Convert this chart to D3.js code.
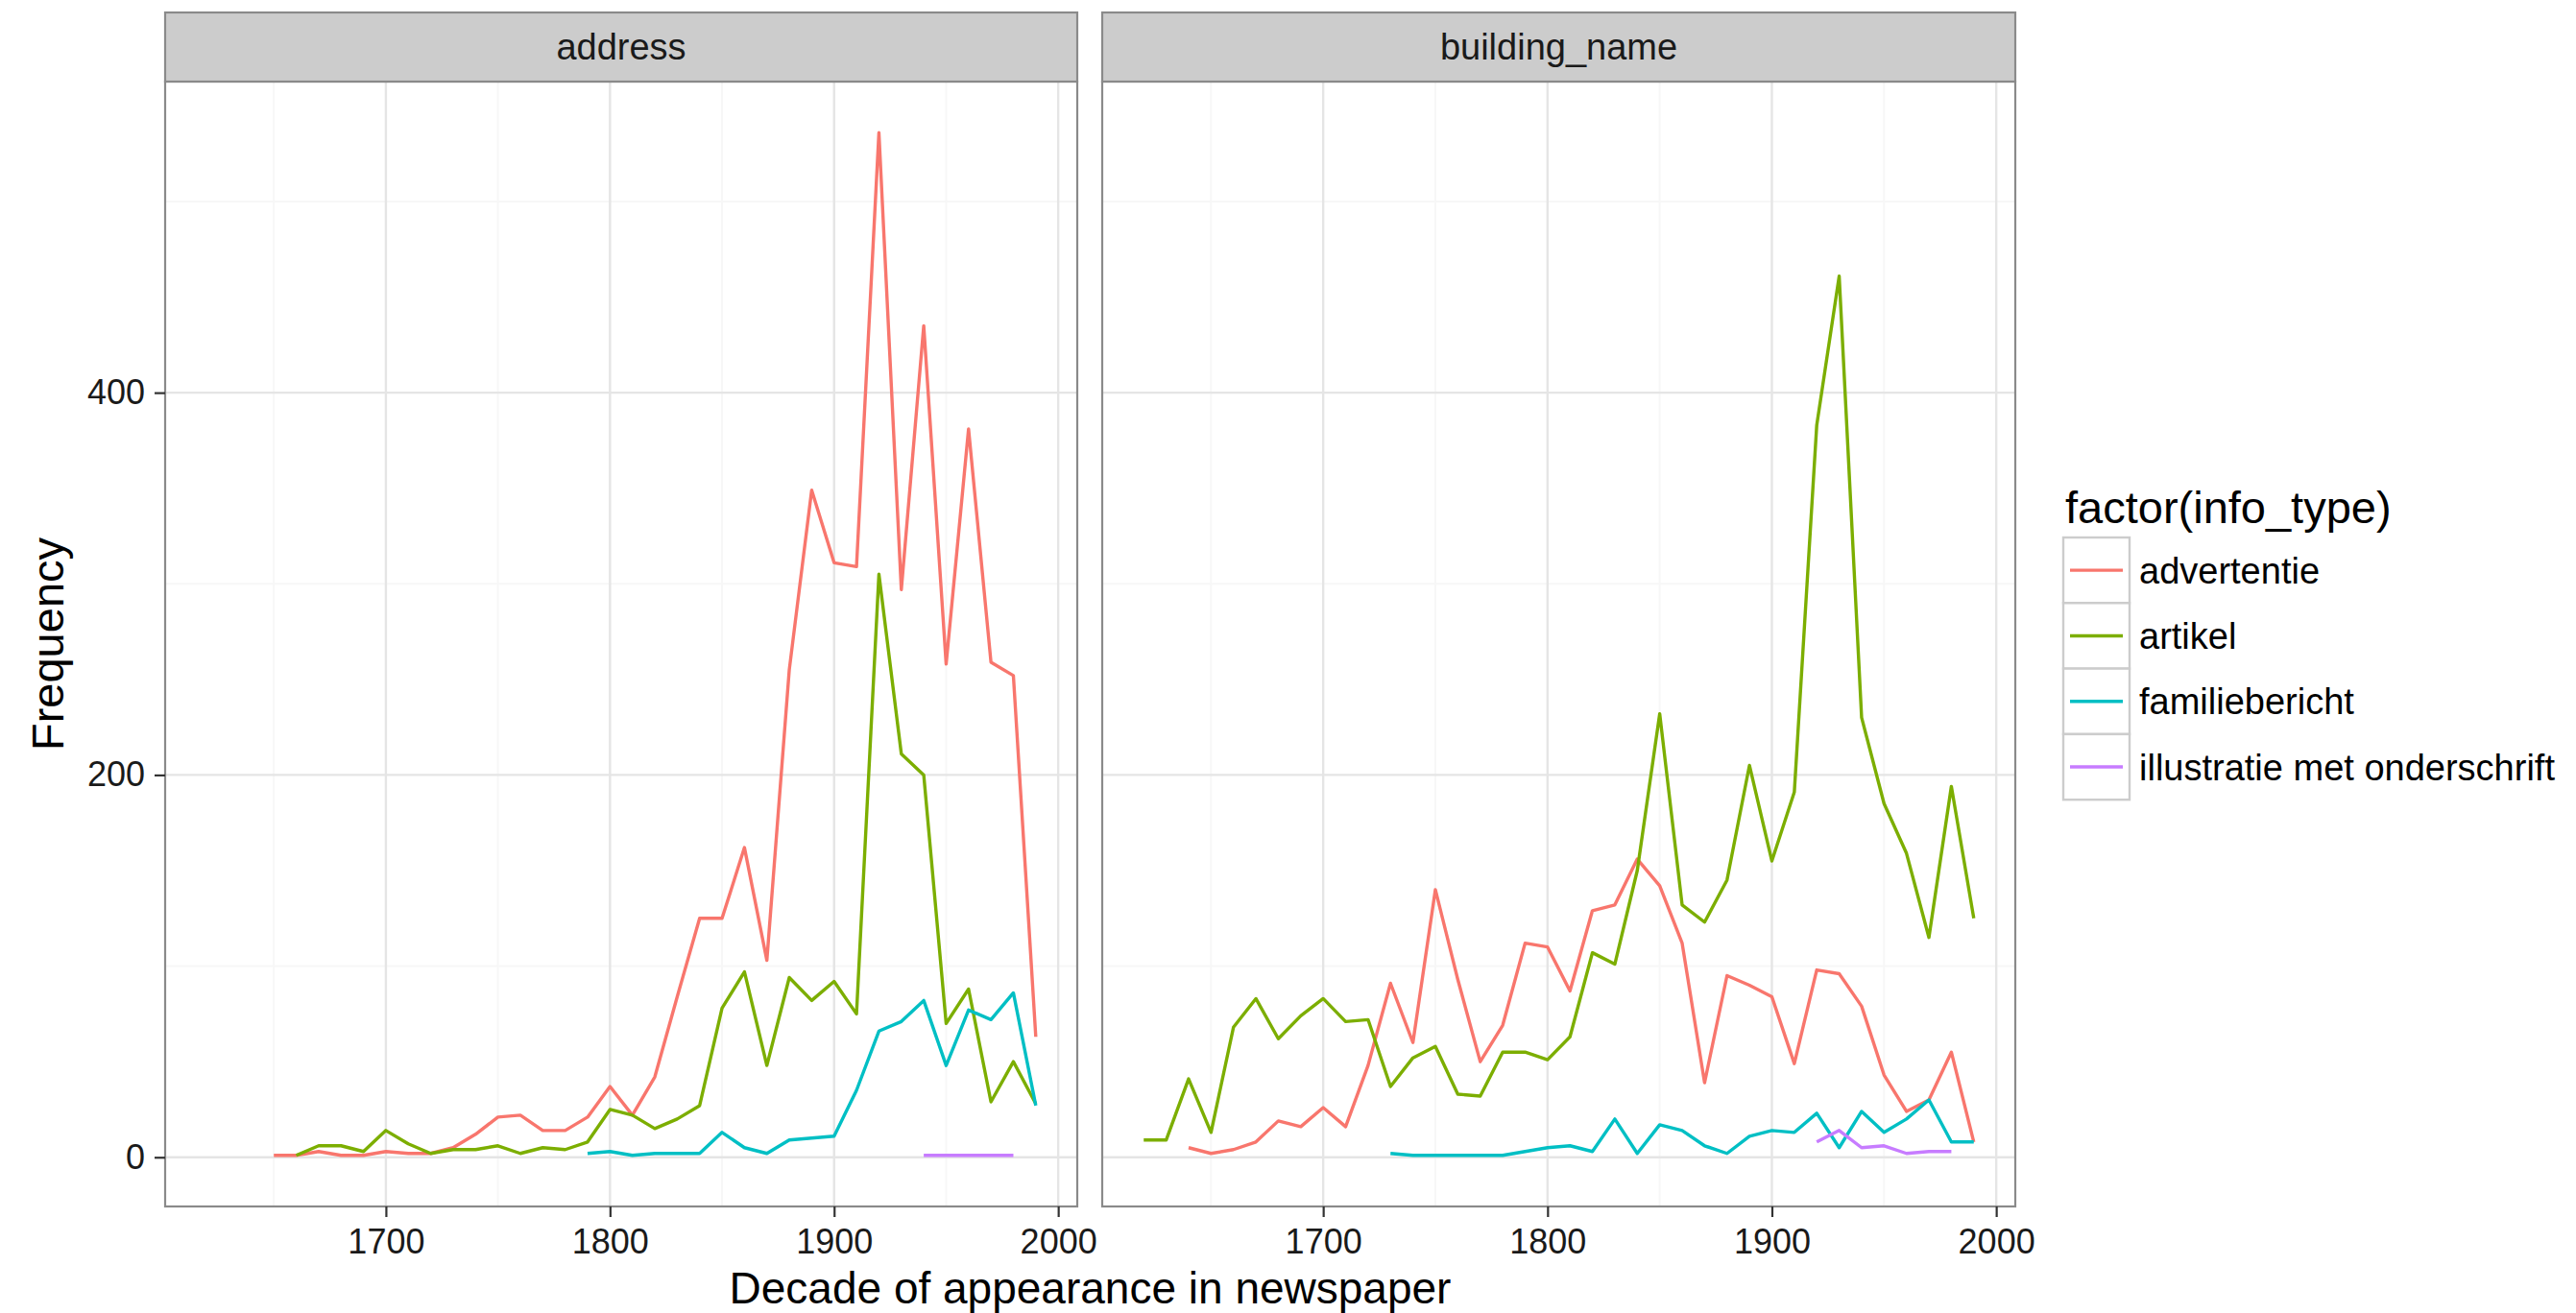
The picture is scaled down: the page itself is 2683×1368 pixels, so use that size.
<!DOCTYPE html>
<html lang="en">
<head>
    <meta charset="UTF-8">
    <title>Decade of appearance in newspaper</title>
    <style>
        body {
            margin: 0;
            background: #fff;
            font-family: 'Liberation Sans', Arial, sans-serif;
        }
        svg { display: block; }
        .axis path { display: none; }
        .axis line { stroke: #333; stroke-width: 2.2; }
        .axis text { font-size: 36px; fill: #1a1a1a; font-family: 'Liberation Sans', Arial, sans-serif; }
    </style>
</head>
<body>
    <svg width="2683" height="1368"></svg>
    <script src="https://d3js.org/d3.v7.min.js"></script>
    <script>
        const width = 2683;
        const height = 1368;

        // decades shared by every series (null = no value that decade)
        const decades = [1620, 1630, 1640, 1650, 1660, 1670, 1680, 1690, 1700, 1710,
                         1720, 1730, 1740, 1750, 1760, 1770, 1780, 1790, 1800, 1810,
                         1820, 1830, 1840, 1850, 1860, 1870, 1880, 1890, 1900, 1910,
                         1920, 1930, 1940, 1950, 1960, 1970, 1980, 1990];

        const infoTypes = ["advertentie", "artikel", "familiebericht", "illustratie met onderschrift"];
        const facets = ["address", "building_name"];

        // facet: address
        const addressAdvertentie = [null, null, null, 1, 1, 3, 1, 1, 3, 2,
                                    2, 5, 12, 21, 22, 14, 14, 21, 37, 22,
                                    42, 84, 125, 125, 162, 103, 255, 349, 311, 309,
                                    536, 297, 435, 258, 381, 259, 252, 63];
        const addressArtikel = [null, null, null, null, 1, 6, 6, 3, 14, 7,
                                2, 4, 4, 6, 2, 5, 4, 8, 25, 22,
                                15, 20, 27, 78, 97, 48, 94, 82, 92, 75,
                                305, 211, 200, 70, 88, 29, 50, 28];
        const addressFamiliebericht = [null, null, null, null, null, null, null, null, null, null,
                                       null, null, null, null, null, null, null, 2, 3, 1,
                                       2, 2, 2, 13, 5, 2, 9, 10, 11, 35,
                                       66, 71, 82, 48, 77, 72, 86, 27];
        const addressIllustratie = [null, null, null, null, null, null, null, null, null, null,
                                    null, null, null, null, null, null, null, null, null, null,
                                    null, null, null, null, null, null, null, null, null, null,
                                    null, null, 1, 1, 1, 1, 1, null];

        // facet: building_name
        const buildingAdvertentie = [null, null, 5, 2, 4, 8, 19, 16, 26, 16,
                                     48, 91, 60, 140, 93, 50, 69, 112, 110, 87,
                                     129, 132, 156, 142, 112, 39, 95, 90, 84, 49,
                                     98, 96, 79, 43, 24, 30, 55, 8];
        const buildingArtikel = [9, 9, 41, 13, 68, 83, 62, 74, 83, 71,
                                 72, 37, 52, 58, 33, 32, 55, 55, 51, 63,
                                 107, 101, 150, 232, 132, 123, 145, 205, 155, 191,
                                 383, 461, 230, 185, 159, 115, 194, 125];
        const buildingFamiliebericht = [null, null, null, null, null, null, null, null, null, null,
                                        null, 2, 1, 1, 1, 1, 1, 3, 5, 6,
                                        3, 20, 2, 17, 14, 6, 2, 11, 14, 13,
                                        23, 5, 24, 13, 20, 30, 8, 8];
        const buildingIllustratie = [null, null, null, null, null, null, null, null, null, null,
                                     null, null, null, null, null, null, null, null, null, null,
                                     null, null, null, null, null, null, null, null, null, null,
                                     8, 14, 5, 6, 2, 3, 3, null];

        const seriesByFacet = {
            address: [addressAdvertentie, addressArtikel, addressFamiliebericht, addressIllustratie],
            building_name: [buildingAdvertentie, buildingArtikel, buildingFamiliebericht, buildingIllustratie]
        };

        const xTicks = [1700, 1800, 1900, 2000];
        const xMinor = [1650, 1750, 1850, 1950];
        const yTicks = [0, 200, 400];
        const yMinor = [100, 300, 500];

        const colors = ["#F8766D", "#7CAE00", "#00BFC4", "#C77CFF"];

        // layout
        const stripTop = 13;
        const panelTop = 85;
        const panelBottom = 1257;
        const panelX = [[172, 1122], [1148, 2099]];

        const svg = d3.select("svg");

        // ggplot style 5% expansion on both scales
        const allYears = [];
        const allValues = [];
        facets.forEach(f => seriesByFacet[f].forEach(s => s.forEach((v, i) => {
            if (v !== null) { allYears.push(decades[i]); allValues.push(v); }
        })));
        const xExt = d3.extent(allYears);
        const yExt = d3.extent(allValues);
        const xPad = (xExt[1] - xExt[0]) * 0.05;
        const yPad = (yExt[1] - yExt[0]) * 0.05;

        const y = d3.scaleLinear()
            .domain([yExt[0] - yPad, yExt[1] + yPad])
            .range([panelBottom, panelTop]);

        facets.forEach((facet, fi) => {
            const [x0, x1] = panelX[fi];
            const x = d3.scaleLinear()
                .domain([xExt[0] - xPad, xExt[1] + xPad])
                .range([x0, x1]);

            const g = svg.append("g");

            // panel background
            g.append("rect")
                .attr("x", x0).attr("y", panelTop)
                .attr("width", x1 - x0).attr("height", panelBottom - panelTop)
                .attr("fill", "#fff");

            // minor grid
            g.selectAll(".vminor").data(xMinor).join("line")
                .attr("x1", d => x(d)).attr("x2", d => x(d))
                .attr("y1", panelTop).attr("y2", panelBottom)
                .attr("stroke", "#F7F7F7").attr("stroke-width", 2);
            g.selectAll(".hminor").data(yMinor).join("line")
                .attr("x1", x0).attr("x2", x1)
                .attr("y1", d => y(d)).attr("y2", d => y(d))
                .attr("stroke", "#F7F7F7").attr("stroke-width", 2);

            // major grid
            g.selectAll(".vmajor").data(xTicks).join("line")
                .attr("x1", d => x(d)).attr("x2", d => x(d))
                .attr("y1", panelTop).attr("y2", panelBottom)
                .attr("stroke", "#E5E5E5").attr("stroke-width", 2.4);
            g.selectAll(".hmajor").data(yTicks).join("line")
                .attr("x1", x0).attr("x2", x1)
                .attr("y1", d => y(d)).attr("y2", d => y(d))
                .attr("stroke", "#E5E5E5").attr("stroke-width", 2.4);

            // lines
            const line = d3.line()
                .defined(d => d.v !== null)
                .x(d => x(d.year))
                .y(d => y(d.v));

            seriesByFacet[facet].forEach((values, si) => {
                const pts = values.map((v, i) => ({ year: decades[i], v: v }));
                g.append("path")
                    .datum(pts)
                    .attr("fill", "none")
                    .attr("stroke", colors[si])
                    .attr("stroke-width", 3.4)
                    .attr("stroke-linejoin", "round")
                    .attr("d", line);
            });

            // panel border
            g.append("rect")
                .attr("x", x0).attr("y", panelTop)
                .attr("width", x1 - x0).attr("height", panelBottom - panelTop)
                .attr("fill", "none").attr("stroke", "#8a8a8a").attr("stroke-width", 2.2);

            // strip
            g.append("rect")
                .attr("x", x0).attr("y", stripTop)
                .attr("width", x1 - x0).attr("height", panelTop - stripTop)
                .attr("fill", "#CCCCCC").attr("stroke", "#8a8a8a").attr("stroke-width", 2.2);
            g.append("text")
                .attr("x", (x0 + x1) / 2).attr("y", 62)
                .attr("text-anchor", "middle")
                .attr("font-size", 38).attr("fill", "#1a1a1a")
                .text(facet);

            // x axis
            g.append("g")
                .attr("class", "axis")
                .attr("transform", `translate(0,${panelBottom})`)
                .call(d3.axisBottom(x).tickValues(xTicks).tickFormat(d3.format("d"))
                    .tickSize(11).tickPadding(12));

            // y axis on first panel only
            if (fi === 0) {
                g.append("g")
                    .attr("class", "axis")
                    .attr("transform", `translate(${x0},0)`)
                    .call(d3.axisLeft(y).tickValues(yTicks).tickSize(11).tickPadding(10));
            }
        });

        // axis titles
        svg.append("text")
            .attr("x", (panelX[0][0] + panelX[1][1]) / 2).attr("y", 1358)
            .attr("text-anchor", "middle")
            .attr("font-size", 46).attr("fill", "#000")
            .text("Decade of appearance in newspaper");

        svg.append("text")
            .attr("transform", `translate(66,${(panelTop + panelBottom) / 2}) rotate(-90)`)
            .attr("text-anchor", "middle")
            .attr("font-size", 47).attr("fill", "#000")
            .text("Frequency");

        // legend
        const legend = svg.append("g").attr("transform", "translate(2149,0)");
        legend.append("text")
            .attr("x", 2).attr("y", 545)
            .attr("font-size", 47).attr("fill", "#000")
            .text("factor(info_type)");

        const keyH = 68.3;
        const keyW = 69;
        const keyTop = 560;
        infoTypes.forEach((t, i) => {
            const ky = keyTop + i * keyH;
            legend.append("rect")
                .attr("x", 0).attr("y", ky)
                .attr("width", keyW).attr("height", keyH)
                .attr("fill", "#fff").attr("stroke", "#CCCCCC").attr("stroke-width", 2.4);
            legend.append("line")
                .attr("x1", 7).attr("x2", keyW - 7)
                .attr("y1", ky + keyH / 2).attr("y2", ky + keyH / 2)
                .attr("stroke", colors[i]).attr("stroke-width", 3.4);
            legend.append("text")
                .attr("x", 79).attr("y", ky + keyH / 2 + 13.5)
                .attr("font-size", 38).attr("fill", "#000")
                .text(t);
        });
    </script>
</body>
</html>
